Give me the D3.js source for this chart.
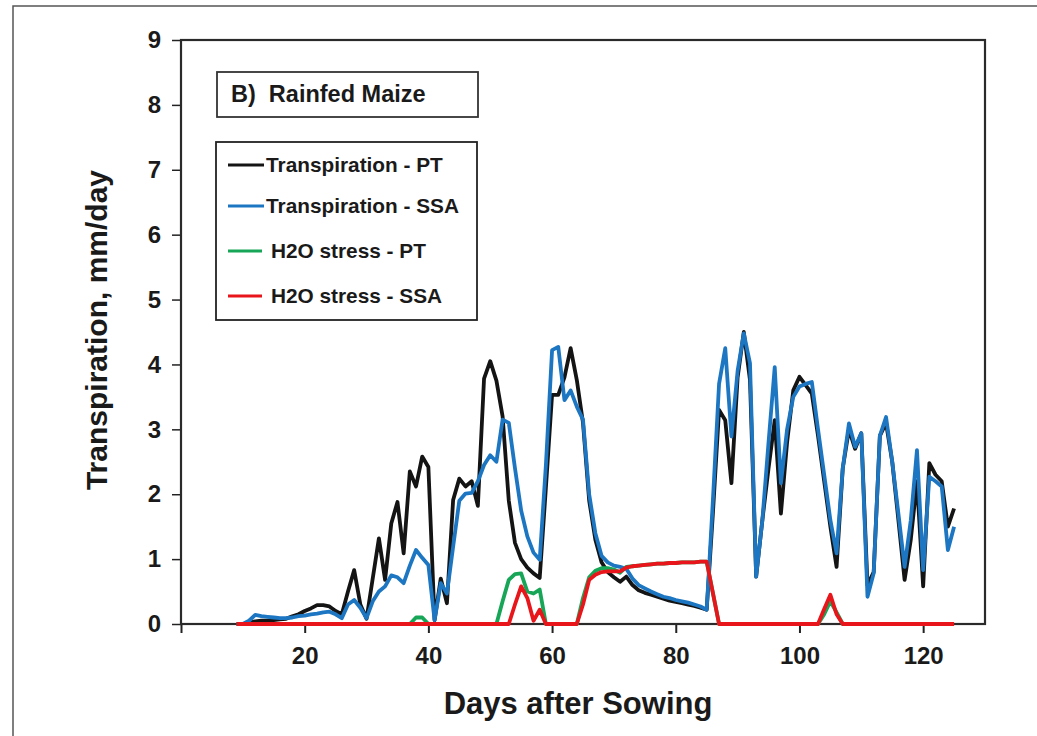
<!DOCTYPE html>
<html>
<head>
<meta charset="utf-8">
<script src="https://cdn.jsdelivr.net/npm/d3@7/dist/d3.min.js"></script>
<style>
  body { margin: 0; background: #fff; }
  svg text { font-family: "Liberation Sans", Arial, sans-serif; font-weight: bold; fill: #1a1a1a; }
</style>
</head>
<body>
<svg id="chart" width="1037" height="736"></svg>
<script>
// days after sowing, one value per day
const days = d3.range(9, 126);

const transpPT = [
  0, 0, 0.02, 0.04, 0.05, 0.05, 0.06, 0.07, 0.08, 0.12,
  0.15, 0.2, 0.24, 0.29, 0.29, 0.27, 0.2, 0.15, 0.5, 0.83,
  0.3, 0.08, 0.7, 1.32, 0.68, 1.55, 1.88, 1.09, 2.35, 2.12,
  2.58, 2.42, 0.06, 0.7, 0.32, 1.91, 2.24, 2.12, 2.2, 1.82,
  3.78, 4.05, 3.75, 3.2, 1.9, 1.25, 1.0, 0.87, 0.78, 0.71,
  2.1, 3.53, 3.53, 3.8, 4.25, 3.76, 3.1, 1.9, 1.3, 0.95,
  0.8, 0.72, 0.65, 0.73, 0.6, 0.52, 0.48, 0.45, 0.42, 0.39,
  0.36, 0.34, 0.32, 0.3, 0.28, 0.25, 0.22, 1.7, 3.3, 3.14,
  2.17, 3.8, 4.5, 3.76, 0.73, 1.6, 2.4, 3.14, 1.7, 2.8,
  3.6, 3.81, 3.68, 3.55, 2.9, 2.2, 1.5, 0.88, 2.4, 3.0,
  2.7, 2.94, 0.6, 0.8, 2.9, 3.1, 2.5, 1.6, 0.68, 1.3,
  2.2, 0.58, 2.48, 2.3, 2.2, 1.5, 1.78
];

const transpSSA = [
  0, 0, 0.05, 0.14, 0.12, 0.11, 0.1, 0.09, 0.09, 0.1,
  0.12, 0.13, 0.15, 0.16, 0.18, 0.19, 0.15, 0.09, 0.3, 0.37,
  0.25, 0.09, 0.35, 0.5, 0.58, 0.75, 0.72, 0.63, 0.9, 1.14,
  1.02, 0.91, 0.06, 0.63, 0.47, 1.19, 1.9, 2.01, 2.02, 2.2,
  2.45, 2.6, 2.5, 3.15, 3.1, 2.4, 1.75, 1.35, 1.1, 0.99,
  2.45, 4.22, 4.27, 3.45, 3.6, 3.35, 3.15, 2.0, 1.4, 1.05,
  0.95, 0.9, 0.88, 0.85, 0.7, 0.6, 0.55, 0.5, 0.46, 0.42,
  0.4, 0.37, 0.35, 0.33, 0.3, 0.27, 0.22, 1.9, 3.7, 4.25,
  2.89, 3.9, 4.48, 4.02, 0.73, 1.6, 2.8, 3.96, 2.17, 3.0,
  3.5, 3.66, 3.7, 3.73, 3.0, 2.3, 1.6, 1.09, 2.4, 3.09,
  2.73, 2.94, 0.42, 0.78, 2.9, 3.19, 2.5, 1.7, 0.88, 1.6,
  2.68, 0.83, 2.27, 2.2, 2.12, 1.14, 1.5
];

const stressPT = [
  0, 0, 0, 0, 0, 0, 0, 0, 0, 0,
  0, 0, 0, 0, 0, 0, 0, 0, 0, 0,
  0, 0, 0, 0, 0, 0, 0, 0, 0, 0.1,
  0.1, 0, 0, 0, 0, 0, 0, 0, 0, 0,
  0, 0, 0, 0.35, 0.68, 0.77, 0.78, 0.5, 0.47, 0.53,
  0, 0, 0, 0, 0, 0, 0.4, 0.72, 0.82, 0.86,
  0.86, 0.84, 0.79, 0.88, 0.89, 0.9, 0.91, 0.92, 0.93, 0.93,
  0.94, 0.94, 0.95, 0.95, 0.95, 0.96, 0.96, 0.48, 0, 0,
  0, 0, 0, 0, 0, 0, 0, 0, 0, 0,
  0, 0, 0, 0, 0, 0.15, 0.35, 0.18, 0, 0,
  0, 0, 0, 0, 0, 0, 0, 0, 0, 0,
  0, 0, 0, 0, 0, 0, 0
];

const stressSSA = [
  0, 0, 0, 0, 0, 0, 0, 0, 0, 0,
  0, 0, 0, 0, 0, 0, 0, 0, 0, 0,
  0, 0, 0, 0, 0, 0, 0, 0, 0, 0,
  0, 0, 0, 0, 0, 0, 0, 0, 0, 0,
  0, 0, 0, 0, 0, 0.3, 0.58, 0.4, 0.05, 0.22,
  0, 0, 0, 0, 0, 0, 0.3, 0.68, 0.76, 0.8,
  0.81, 0.81, 0.81, 0.87, 0.89, 0.9, 0.91, 0.92, 0.93, 0.93,
  0.94, 0.94, 0.95, 0.95, 0.95, 0.96, 0.96, 0.48, 0, 0,
  0, 0, 0, 0, 0, 0, 0, 0, 0, 0,
  0, 0, 0, 0, 0, 0.23, 0.45, 0.15, 0, 0,
  0, 0, 0, 0, 0, 0, 0, 0, 0, 0,
  0, 0, 0, 0, 0, 0, 0
];

const xTicks = [0, 20, 40, 60, 80, 100, 120];
const yTicks = [0, 1, 2, 3, 4, 5, 6, 7, 8, 9];

const seriesNames = ["Transpiration - PT", "Transpiration - SSA", "H2O stress - PT", "H2O stress - SSA"];
const seriesColors = ["#141414", "#1c76c2", "#17a657", "#e8151b"];
const seriesData = [transpPT, transpSSA, stressPT, stressSSA];

const svg = d3.select("#chart");
const margin = {top: 40, right: 52, bottom: 112, left: 181};
const width = 1037 - margin.left - margin.right;
const height = 736 - margin.top - margin.bottom;

// outer border of the figure
svg.append("rect")
  .attr("x", 13).attr("y", 6)
  .attr("width", 1040).attr("height", 740)
  .attr("fill", "none").attr("stroke", "#555").attr("stroke-width", 1.5);

const g = svg.append("g").attr("transform", `translate(${margin.left},${margin.top})`);

const x = d3.scaleLinear().domain([0, 130]).range([0, width]);
const y = d3.scaleLinear().domain([0, 9]).range([height, 0]);

const xAxis = g.append("g")
  .attr("transform", `translate(0,${height})`)
  .call(d3.axisBottom(x).tickValues(xTicks).tickSize(9).tickPadding(14)
    .tickFormat(d => d === 0 ? "" : d));
xAxis.select(".domain").remove();
xAxis.selectAll("line").attr("stroke", "#222").attr("stroke-width", 2);
xAxis.selectAll("text").attr("font-size", 24).attr("fill", "#1a1a1a");

const yAxis = g.append("g")
  .call(d3.axisLeft(y).tickValues(yTicks).tickSize(9).tickPadding(11));
yAxis.select(".domain").remove();
yAxis.selectAll("line").attr("stroke", "#222").attr("stroke-width", 1.5);
yAxis.selectAll("text").attr("font-size", 24).attr("fill", "#1a1a1a");

// plot frame
g.append("rect")
  .attr("width", width).attr("height", height)
  .attr("fill", "none").attr("stroke", "#2a2a2a").attr("stroke-width", 2.2);

const line = d3.line()
  .x((d, i) => x(days[i]))
  .y(d => y(d));

seriesData.forEach((vals, k) => {
  g.append("path")
    .datum(vals)
    .attr("fill", "none")
    .attr("stroke", seriesColors[k])
    .attr("stroke-width", 3.8)
    .attr("stroke-linejoin", "round")
    .attr("d", line);
});

// axis titles
svg.append("text")
  .attr("x", 578).attr("y", 714)
  .attr("text-anchor", "middle")
  .attr("font-size", 31)
  .text("Days after Sowing");

svg.append("text")
  .attr("transform", "translate(107,330) rotate(-90)")
  .attr("text-anchor", "middle")
  .attr("font-size", 30)
  .text("Transpiration, mm/day");

// panel label box
svg.append("rect")
  .attr("x", 217).attr("y", 72).attr("width", 261).attr("height", 45)
  .attr("fill", "#fff").attr("stroke", "#333").attr("stroke-width", 1.8);
svg.append("text")
  .attr("x", 231).attr("y", 102)
  .attr("font-size", 23.5)
  .attr("xml:space", "preserve")
  .text("B)  Rainfed Maize");

// legend box
svg.append("rect")
  .attr("x", 216).attr("y", 142).attr("width", 261).attr("height", 178)
  .attr("fill", "#fff").attr("stroke", "#222").attr("stroke-width", 1.8);

const rowsY = [165, 206, 251, 296];
const textX = [266, 266, 271, 271];
seriesNames.forEach((name, k) => {
  svg.append("line")
    .attr("x1", 228).attr("x2", k < 2 ? 264 : 262)
    .attr("y1", rowsY[k]).attr("y2", rowsY[k])
    .attr("stroke", seriesColors[k]).attr("stroke-width", 3.2);
  svg.append("text")
    .attr("x", textX[k]).attr("y", rowsY[k] + 7)
    .attr("font-size", 20.8)
    .text(name);
});
</script>
</body>
</html>
